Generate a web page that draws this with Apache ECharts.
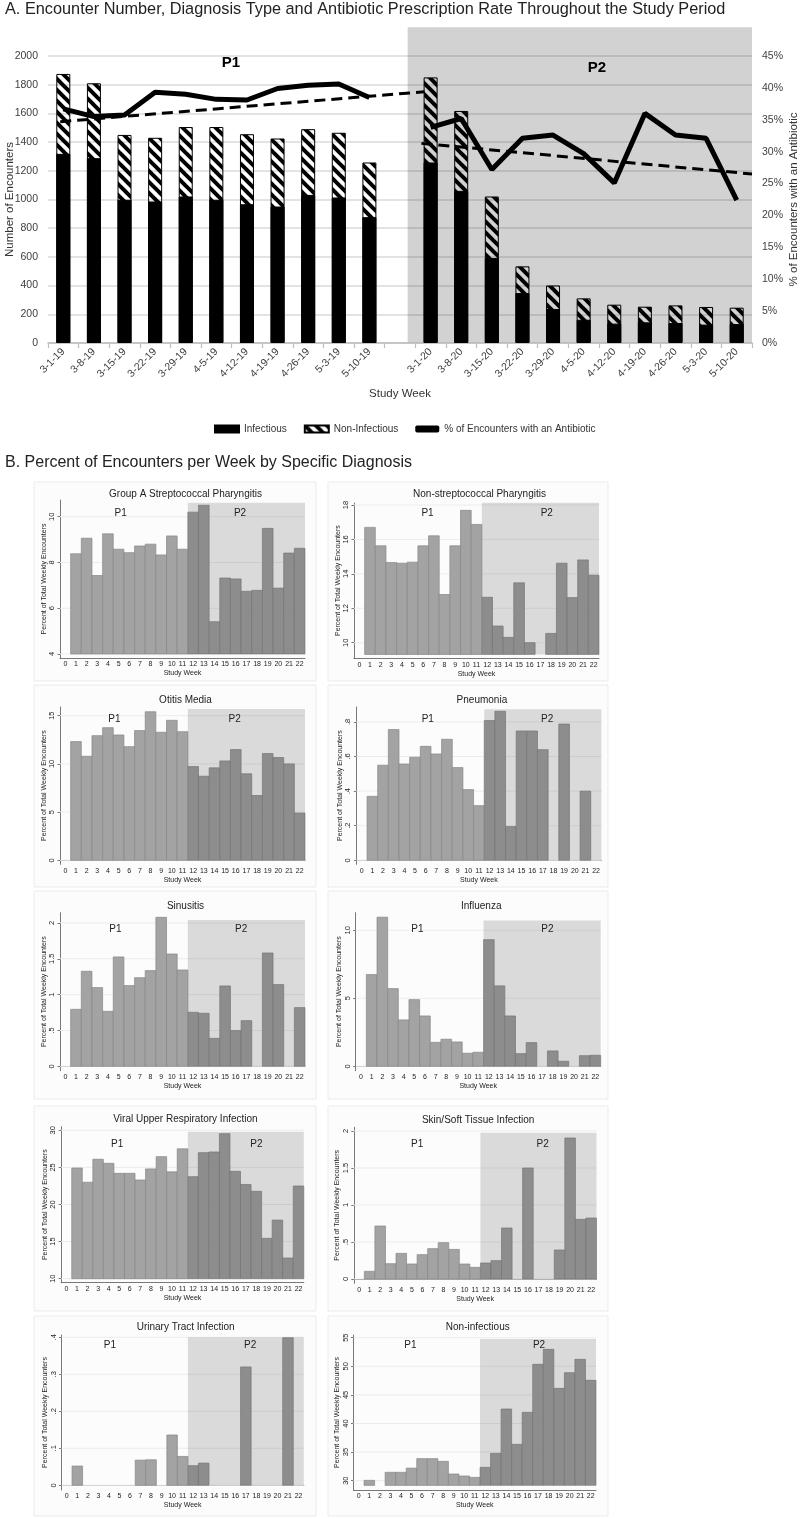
<!DOCTYPE html>
<html><head><meta charset="utf-8">
<script src="https://cdn.jsdelivr.net/npm/echarts@6/dist/echarts.min.js"></script>
<style>html,body{margin:0;padding:0;background:#ffffff}#c{width:800px;height:1518px}</style>
</head><body><div id="c"></div>
<script>
// ================= Panel A data =================
var weeksP1 = ['3-1-19','3-8-19','3-15-19','3-22-19','3-29-19','4-5-19','4-12-19','4-19-19','4-26-19','5-3-19','5-10-19'];
var weeksP2 = ['3-1-20','3-8-20','3-15-20','3-22-20','3-29-20','4-5-20','4-12-20','4-19-20','4-26-20','5-3-20','5-10-20'];
var categoriesA = weeksP1.concat([''], weeksP2);
var totalEncounters = [1875,1810,1450,1430,1505,1505,1455,1425,1490,1465,1258,null,1851,1617,1021,534,401,311,267,253,262,251,246];
var infectiousEncounters = [1318,1288,998,986,1021,998,967,951,1032,1014,877,null,1258,1060,592,348,237,162,135,144,139,128,132];
var abxPercent = [36.7,35.5,35.75,39.3,39.0,38.2,38.1,39.9,40.4,40.6,38.5,null,33.8,35.2,27.2,32.1,32.6,29.7,25.1,36.0,32.6,32.1,22.4];
var trendP1 = [[-0.1,34.7],[11.8,39.4]];
var trendP2 = [[11.7,31.3],[22.5,26.5]];
var p2ShadeA = [[11.25,22.5,0,2200]];
var periodLabelsA = ['P1','P2'];

// ================= Panel B data (index = study week 0..22) =================
var studyWeeks = ['0','1','2','3','4','5','6','7','8','9','10','11','12','13','14','15','16','17','18','19','20','21','22'];
var gasPharyngitis = [null,8.38,9.06,7.43,9.25,8.58,8.43,8.72,8.80,8.33,9.16,8.58,10.2,10.5,5.41,7.32,7.28,6.74,6.78,9.49,6.88,8.41,8.62];
var nonStrepPharyngitis = [null,16.70,15.63,14.66,14.62,14.68,15.63,16.21,12.80,15.63,17.69,16.87,12.64,10.97,10.31,13.48,10.0,null,10.54,14.62,12.62,14.81,13.92];
var otitisMedia = [null,12.31,10.79,12.93,13.76,13.0,11.79,13.45,15.41,13.28,14.52,13.34,9.72,8.72,9.59,10.31,11.48,8.97,6.72,11.07,10.66,10.0,4.90];
var pneumonia = [null,0.37,0.55,0.756,0.557,0.596,0.659,0.615,0.70,0.536,0.409,0.316,0.808,0.862,0.195,0.748,0.748,0.64,null,0.788,null,0.40,null];
var sinusitis = [null,0.795,1.326,1.098,0.767,1.526,1.126,1.237,1.335,2.079,1.567,1.344,0.753,0.74,0.39,1.121,0.498,0.637,null,1.581,1.14,null,0.819];
var influenza = [null,6.74,10.96,5.71,3.41,4.90,3.70,1.76,1.99,1.79,0.96,1.03,9.31,5.91,3.70,0.93,1.74,null,1.13,0.37,null,0.78,0.81];
var viralURI = [null,24.92,23.0,26.1,25.55,24.2,24.2,23.3,24.8,26.45,24.4,27.5,23.75,26.99,27.08,29.55,24.47,22.7,21.78,15.44,17.9,12.79,22.49];
var skinSoftTissue = [null,0.104,0.716,0.207,0.347,0.203,0.329,0.41,0.491,0.40,0.203,0.158,0.216,0.248,0.689,null,1.5,null,null,0.392,1.905,0.806,0.824];
var urinaryTract = [null,0.052,null,null,null,null,null,0.068,0.069,null,0.136,0.078,0.053,0.060,null,null,null,0.32,null,null,null,0.399,null];
var nonInfectious = [null,30.06,null,31.46,31.46,32.2,33.85,33.85,33.38,31.17,30.82,30.58,32.33,34.78,42.53,36.35,41.95,50.34,52.96,46.14,48.88,51.21,47.54];

var gasTicks = [4,6,8,10];
var nspTicks = [10,12,14,16,18];
var omTicks = [0,5,10,15];
var pnTicks = [0,0.2,0.4,0.6,0.8];
var sinTicks = [0,0.5,1,1.5,2];
var fluTicks = [0,5,10];
var uriTicks = [10,15,20,25,30];
var skinTicks = [0,0.5,1,1.5,2];
var utiTicks = [0,0.1,0.2,0.3,0.4];
var niTicks = [30,35,40,45,50,55];

// bar base value and P2 shade top, P1/P2 label week positions
var panels = [
  {title:'Group A Streptococcal Pharyngitis', values:gasPharyngitis, ticks:gasTicks, base:4, shadeTop:10.61, p1:5.2, p2:16.4},
  {title:'Non-streptococcal Pharyngitis', values:nonStrepPharyngitis, ticks:nspTicks, base:9.32, shadeTop:18.13, p1:6.4, p2:17.6},
  {title:'Otitis Media', values:otitisMedia, ticks:omTicks, base:0, shadeTop:15.69, p1:4.6, p2:15.9},
  {title:'Pneumonia', values:pneumonia, ticks:pnTicks, base:0, shadeTop:0.873, p1:6.2, p2:17.4},
  {title:'Sinusitis', values:sinusitis, ticks:sinTicks, base:0, shadeTop:2.04, p1:4.7, p2:16.5},
  {title:'Influenza', values:influenza, ticks:fluTicks, base:0, shadeTop:10.71, p1:5.3, p2:17.5},
  {title:'Viral Upper Respiratory Infection', values:viralURI, ticks:uriTicks, base:10, shadeTop:29.8, p1:4.8, p2:18.0},
  {title:'Skin/Soft Tissue Infection', values:skinSoftTissue, ticks:skinTicks, base:0, shadeTop:1.977, p1:5.5, p2:17.4},
  {title:'Urinary Tract Infection', values:urinaryTract, ticks:utiTicks, base:0, shadeTop:0.4, p1:4.1, p2:17.4},
  {title:'Non-infectious', values:nonInfectious, ticks:niTicks, base:29.18, shadeTop:54.77, p1:4.9, p2:17.1}
];

// ================= layout (positions / sizes) =================
var panelLayout = [
  {left:60, top:500, width:245, height:158, min:3.825, max:10.73, titleY:494, labelDy:13},
  {left:354, top:503, width:245, height:155.3, min:9.094, max:18.117, titleY:494, labelDy:10},
  {left:60, top:707, width:245, height:157.3, min:-0.415, max:15.9, titleY:700, labelDy:12},
  {left:356.4, top:707, width:245, height:157.3, min:-0.0231, max:0.8866, titleY:700, labelDy:12},
  {left:60, top:912.7, width:245, height:158, min:-0.0614, max:2.143, titleY:906, labelDy:16.6},
  {left:355.7, top:912.7, width:245, height:158, min:-0.324, max:11.29, titleY:906, labelDy:16.6},
  {left:61.2, top:1126.7, width:242.6, height:156, min:9.461, max:30.485, titleY:1119, labelDy:17.3},
  {left:353.8, top:1127.3, width:242.7, height:156, min:-0.058, max:2.05, titleY:1120, labelDy:16.7},
  {left:61.5, top:1335, width:242.3, height:155, min:-0.0127, max:0.4062, titleY:1327, labelDy:10.7},
  {left:353.5, top:1335, width:242.5, height:155, min:28.37, max:55.47, titleY:1327, labelDy:10.7}
];
var boxes = [
  {x:34,y:482,w:282,h:199},{x:328,y:482,w:280,h:199},
  {x:34,y:685,w:282,h:202},{x:328,y:685,w:280,h:202},
  {x:34,y:891,w:282,h:208},{x:328,y:891,w:280,h:208},
  {x:34,y:1106,w:282,h:205},{x:328,y:1106,w:280,h:205},
  {x:34,y:1316,w:282,h:200},{x:328,y:1316,w:280,h:200}
];

var FONT = '"Liberation Sans", Arial, sans-serif';

// hatch pattern for Non-Infectious
function makeHatch(){
  var c = document.createElement('canvas'); var s = 11;
  c.width = s; c.height = s;
  var g = c.getContext('2d');
  g.strokeStyle = '#000'; g.lineWidth = 4; g.lineCap = 'square';
  for (var k = -1; k <= 1; k++) {
    g.beginPath(); g.moveTo(k*s, 0); g.lineTo(k*s + s, s); g.stroke();
  }
  return c;
}
var hatch = {image: makeHatch(), repeat: 'repeat'};

function stataFmt(v){
  var s = String(Math.round(v*1000)/1000);
  if (v > 0 && v < 1) s = s.replace(/^0/, '');
  return s;
}

var chart = echarts.init(document.getElementById('c'), null, {renderer:'canvas'});

var grids = [{left:48, top:56, width:704, height:287, containLabel:false, outerBoundsMode:'none'}];
var xAxes = [
  {type:'category', gridIndex:0, data:categoriesA, boundaryGap:true, z:1,
   axisLine:{lineStyle:{color:'#bdbdbd', width:1.5}},
   axisTick:{show:true, alignWithLabel:false, interval:0, length:5, lineStyle:{color:'#bdbdbd', width:1.2}},
   axisLabel:{interval:0, rotate:45, fontSize:10.5, margin:7, color:'#404040', fontFamily:FONT},
   name:'Study Week', nameLocation:'middle', nameGap:45, nameTextStyle:{fontSize:11.5, color:'#333', fontFamily:FONT}},
  {type:'value', gridIndex:0, min:-0.5, max:22.5, show:false}
];
var yAxes = [
  {type:'value', gridIndex:0, min:0, max:2000, interval:200, z:1,
   axisLine:{show:false}, axisTick:{show:false},
   axisLabel:{fontSize:10.5, margin:10, color:'#404040', fontFamily:FONT, formatter:function(v){ return String(v); }},
   splitLine:{lineStyle:{color:'rgba(0,0,0,0.15)', width:1.5}},
   name:'Number of Encounters', nameLocation:'middle', nameGap:32, nameRotate:90, nameMoveOverlap:false,
   nameTextStyle:{fontSize:11.5, color:'#333', fontFamily:FONT}},
  {type:'value', gridIndex:0, position:'right', min:0, max:45, interval:5,
   axisLine:{show:false}, axisTick:{show:false}, splitLine:{show:false},
   axisLabel:{formatter:'{value}%', fontSize:10.5, margin:10, color:'#404040', fontFamily:FONT},
   name:'% of Encounters with an Antibiotic', nameLocation:'middle', nameGap:36, nameRotate:90, nameMoveOverlap:false,
   nameTextStyle:{fontSize:11.5, color:'#333', fontFamily:FONT}}
];

var series = [
  {type:'custom', name:'shadeA', xAxisIndex:1, yAxisIndex:0, z:0, silent:true, data:p2ShadeA,
   renderItem:function(params, api){
     var a = api.coord([api.value(0), api.value(3)]);
     var b = api.coord([api.value(1), api.value(2)]);
     return {type:'rect', shape:{x:a[0], y:a[1], width:b[0]-a[0], height:b[1]-a[1]}, style:{fill:'#d2d2d2'}};
   }},
  {type:'bar', name:'Non-Infectious', xAxisIndex:0, yAxisIndex:0, data:totalEncounters, barWidth:14, z:3,
   itemStyle:{color:hatch, borderColor:'#000', borderWidth:1}},
  {type:'bar', name:'Infectious', xAxisIndex:0, yAxisIndex:0, data:infectiousEncounters, barWidth:14, barGap:'-100%', z:4,
   itemStyle:{color:'#000', borderColor:'#000', borderWidth:1}},
  {type:'line', name:'% of Encounters with an Antibiotic', xAxisIndex:0, yAxisIndex:1, data:abxPercent, z:6,
   symbol:'none', connectNulls:false, itemStyle:{color:'#000'}, lineStyle:{color:'#000', width:5}},
  {type:'line', name:'trendP1', xAxisIndex:1, yAxisIndex:1, data:trendP1, z:5, symbol:'none',
   lineStyle:{color:'#000', width:3, type:[11,6]}},
  {type:'line', name:'trendP2', xAxisIndex:1, yAxisIndex:1, data:trendP2, z:5, symbol:'none',
   lineStyle:{color:'#000', width:3, type:[11,6]}}
];

function barRender(base){
  return function(params, api){
    var x = api.value(0), v = api.value(1);
    var top = api.coord([x, v]); var bot = api.coord([x, base]);
    var w = api.size([1, 0])[0];
    return {type:'rect', shape:{x:top[0]-w/2, y:top[1], width:w, height:bot[1]-top[1]},
      style:{fill:'#a3a3a3', stroke:'#878787', lineWidth:0.7}};
  };
}
function gridLineRender(params, api){
  var cs = params.coordSys;
  var y = api.coord([0, api.value(1)])[1];
  return {type:'line', shape:{x1:cs.x, y1:y, x2:cs.x+cs.width, y2:y}, style:{stroke:'#ececec', lineWidth:1}};
}
function shadeRender(p, L){
  return function(params, api){
    var cs = params.coordSys; var w = api.size([1, 0])[0];
    var a = api.coord([api.value(0), api.value(2)]);
    var b = api.coord([api.value(1), p.base]);
    var x0 = a[0]-w/2, x1 = b[0]+w/2;
    function px(week){ var k = Math.floor(week); return api.coord([k, p.base])[0] + (week-k)*w; }
    return {type:'group', children:[
      {type:'rect', shape:{x:x0, y:a[1], width:x1-x0, height:b[1]-a[1]}, style:{fill:'rgba(0,0,0,0.135)'}},
      {type:'text', x:px(p.p1), y:cs.y+L.labelDy, style:{text:'P1', fill:'#222', fontSize:10, fontFamily:FONT, align:'center', verticalAlign:'middle'}},
      {type:'text', x:px(p.p2), y:cs.y+L.labelDy, style:{text:'P2', fill:'#222', fontSize:10, fontFamily:FONT, align:'center', verticalAlign:'middle'}}
    ]};
  };
}

var graphics = [
  {type:'text', left:5, top:2, z:10, style:{text:'A. Encounter Number, Diagnosis Type and Antibiotic Prescription Rate Throughout the Study Period', fill:'#222', fontSize:16.3, fontFamily:FONT}},
  {type:'text', x:231, y:63, z:10, style:{text:periodLabelsA[0], fill:'#000', fontSize:15, fontWeight:'bold', fontFamily:FONT, align:'center', verticalAlign:'middle'}},
  {type:'text', x:597, y:68, z:10, style:{text:periodLabelsA[1], fill:'#000', fontSize:15, fontWeight:'bold', fontFamily:FONT, align:'center', verticalAlign:'middle'}},
  {type:'text', left:5, top:455, z:10, style:{text:'B. Percent of Encounters per Week by Specific Diagnosis', fill:'#222', fontSize:16, fontFamily:FONT}}
];
boxes.forEach(function(b){
  graphics.push({type:'rect', z:-1, shape:{x:b.x, y:b.y, width:b.w, height:b.h}, style:{fill:'#fcfcfc', stroke:'#ebebeb', lineWidth:1}});
});

panels.forEach(function(p, i){
  var L = panelLayout[i]; var gi = i + 1; var ai = i + 2;
  grids.push({left:L.left, top:L.top, width:L.width, height:L.height, containLabel:false, outerBoundsMode:'none'});
  xAxes.push({type:'category', gridIndex:gi, data:studyWeeks, boundaryGap:true,
    axisLine:{lineStyle:{color:'#555', width:0.8}},
    axisTick:{alignWithLabel:true, interval:0, length:2.5, lineStyle:{color:'#555', width:0.8}},
    axisLabel:{interval:0, fontSize:7, margin:3, color:'#222', fontFamily:FONT},
    name:'Study Week', nameLocation:'middle', nameGap:12, nameTextStyle:{fontSize:7, color:'#222', fontFamily:FONT}});
  yAxes.push({type:'value', gridIndex:gi, min:L.min, max:L.max,
    axisLine:{show:true, lineStyle:{color:'#555', width:0.8}},
    axisTick:{show:true, customValues:p.ticks, length:2.5, lineStyle:{color:'#555', width:0.8}},
    axisLabel:{customValues:p.ticks, rotate:90, fontSize:7.5, margin:4, color:'#222', fontFamily:FONT, formatter:stataFmt},
    splitLine:{show:false},
    name:'Percent of Total Weekly Encounters', nameLocation:'middle', nameGap:12, nameRotate:90,
    nameTextStyle:{fontSize:7, color:'#222', fontFamily:FONT}});
  var barData = [];
  p.values.forEach(function(v, k){ if (v != null) barData.push([k, v]); });
  series.push({type:'custom', xAxisIndex:ai, yAxisIndex:ai, z:1, silent:true,
    data:p.ticks.map(function(t){ return [0, t]; }), renderItem:gridLineRender});
  series.push({type:'custom', xAxisIndex:ai, yAxisIndex:ai, z:2, silent:true, data:barData, renderItem:barRender(p.base)});
  series.push({type:'custom', xAxisIndex:ai, yAxisIndex:ai, z:3, silent:true, data:[[12, 22, p.shadeTop]], renderItem:shadeRender(p, L)});
  graphics.push({type:'text', x:L.left + L.width/2 + 3, y:L.titleY, z:10,
    style:{text:p.title, fill:'#222', fontSize:10, fontFamily:FONT, align:'center', verticalAlign:'middle'}});
});

chart.setOption({
  animation:false,
  backgroundColor:'#ffffff',
  textStyle:{fontFamily:FONT},
  grid:grids, xAxis:xAxes, yAxis:yAxes, series:series, graphic:graphics,
  legend:{data:[{name:'Infectious', icon:'rect'},{name:'Non-Infectious', icon:'rect'},{name:'% of Encounters with an Antibiotic', icon:'roundRect'}],
    left:209, top:419, itemWidth:24, itemHeight:7, itemGap:17, selectedMode:false,
    textStyle:{fontSize:10, color:'#333', fontFamily:FONT}}
});
</script></body></html>
